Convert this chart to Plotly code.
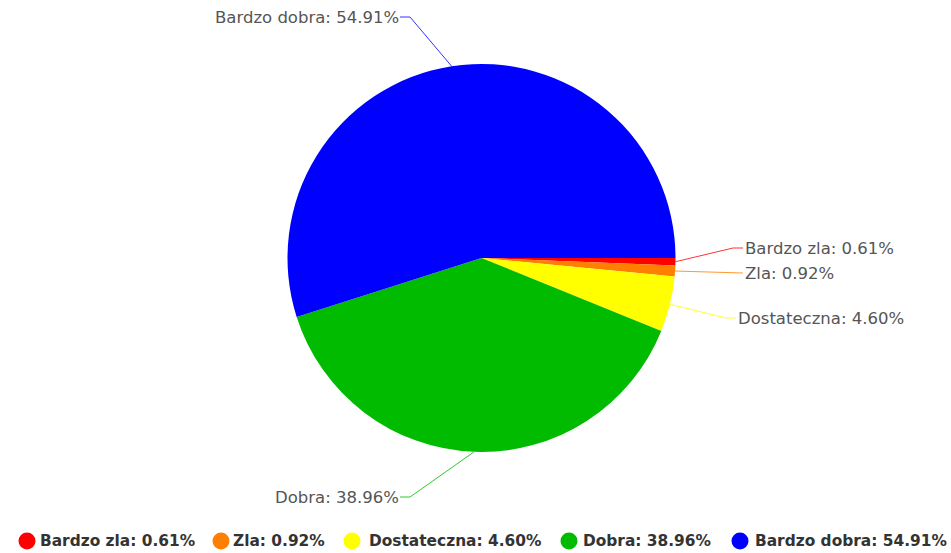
import math
import plotly.graph_objects as go

# Grade distribution
categories = ["Bardzo zla", "Zla", "Dostateczna", "Dobra", "Bardzo dobra"]
shares = [0.61, 0.92, 4.60, 38.96, 54.91]
colors = ["#ff0000", "#ff8000", "#ffff00", "#00bb00", "#0000ff"]

W, H = 951, 553
CX, CY, R = 481.5, 258.0, 194.0

# outer label placement (pixel space): text anchor x, text y, side
label_pos = [
    (743, 248, "left"),
    (743, 273, "left"),
    (736, 318, "left"),
    (401, 497, "right"),
    (401, 17, "right"),
]
# legend item placement (pixel space): marker x, text x
legend_pos = [(27, 38), (221, 231), (352, 367), (569, 581), (740, 753)]
LEGEND_Y = 541

texts = [f"{c}: {v:.2f}%" for c, v in zip(categories, shares)]

fig = go.Figure()

fig.add_trace(go.Pie(
    labels=categories,
    values=shares,
    marker=dict(colors=colors, line=dict(width=0)),
    sort=False,
    direction="clockwise",
    rotation=90,
    textinfo="none",
    hoverinfo="label+percent",
    showlegend=False,
    domain=dict(x=[(CX - R) / W, (CX + R) / W], y=[1 - (CY + R) / H, 1 - (CY - R) / H]),
))

# leader lines from each slice's mid-angle to its label
total = sum(shares)
cum = 0.0
for i, v in enumerate(shares):
    mid = (cum + v / 2) / total * 2 * math.pi
    cum += v
    sx = CX + R * math.cos(mid)
    sy = CY + R * math.sin(mid)
    tx, ty, side = label_pos[i]
    if side == "left":
        ex, bx = tx, tx - 10
    else:
        ex, bx = tx - 1, tx + 9
    fig.add_trace(go.Scatter(
        x=[sx, bx, ex], y=[sy, ty, ty], mode="lines",
        line=dict(color=colors[i], width=1), opacity=0.8,
        hoverinfo="skip", showlegend=False,
    ))
    fig.add_annotation(
        x=tx, y=ty, xref="x", yref="y", text=texts[i], showarrow=False,
        xanchor=side, yanchor="middle",
        font=dict(family="DejaVu Sans", size=16.5, color="#555555"),
    )

# legend row
fig.add_trace(go.Scatter(
    x=[p[0] for p in legend_pos], y=[LEGEND_Y] * len(legend_pos), mode="markers",
    marker=dict(size=17, color=colors, line=dict(width=0)),
    hoverinfo="skip", showlegend=False,
))
for i, (mx, txp) in enumerate(legend_pos):
    fig.add_annotation(
        x=txp, y=LEGEND_Y, xref="x", yref="y", text=f"<b>{texts[i]}</b>", showarrow=False,
        xanchor="left", yanchor="middle",
        font=dict(family="DejaVu Sans", size=15.4, color="#333333"),
    )

fig.update_layout(
    width=W, height=H,
    margin=dict(l=0, r=0, t=0, b=0),
    paper_bgcolor="white", plot_bgcolor="rgba(0,0,0,0)",
    xaxis=dict(range=[0, W], visible=False, domain=[0, 1], fixedrange=True),
    yaxis=dict(range=[H, 0], visible=False, domain=[0, 1], fixedrange=True),
    showlegend=False,
)

fig.write_html("out.html")
